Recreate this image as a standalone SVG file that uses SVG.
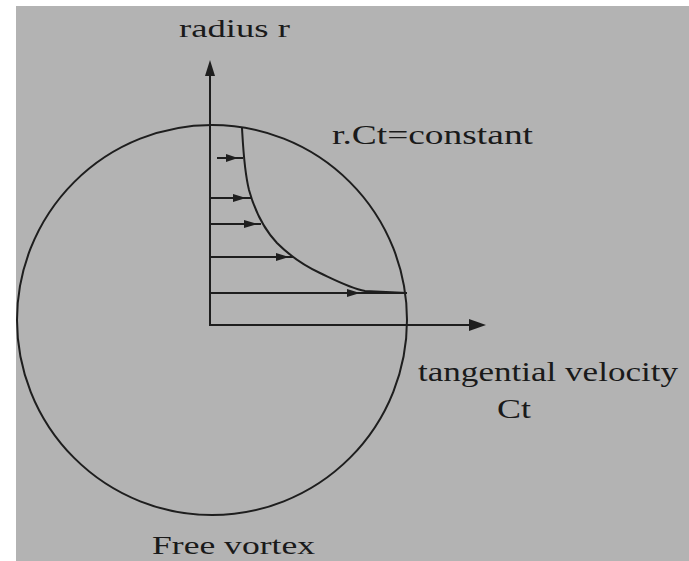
<svg xmlns="http://www.w3.org/2000/svg" width="689" height="561" viewBox="0 0 689 561">
<style>
.ln{stroke:#1e1e1e;stroke-width:2;fill:none}
.hd{fill:#1e1e1e;stroke:none}
.tx{font-family:"Liberation Serif","DejaVu Serif",serif;fill:#1a1a1a}
</style>
<rect x="0" y="0" width="689" height="561" fill="#ffffff"/>
<rect x="16" y="6" width="673" height="555" fill="#b3b3b3"/>
<g id="circle">
<circle class="ln" cx="212" cy="320" r="195"/>
</g>
<g id="axes">
<line class="ln" x1="210" y1="72" x2="210" y2="326"/>
<line class="ln" x1="209" y1="325" x2="474" y2="325"/>
<path class="hd" d="M210,60 L215,76 L205,76 Z"/>
<path class="hd" d="M486,325 L469,319 L469,331 Z"/>
</g>
<g id="curve">
<path class="ln" d="M242,128 C243,145 244,170 249,190 C254,208 263,228 277,243 C290,256 305,266 320,273 C335,280 350,288 365,291 L407,293"/>
</g>
<g id="velocity-arrows">
<line class="ln" x1="217" y1="158" x2="243" y2="158"/>
<line class="ln" x1="210" y1="198" x2="251" y2="198"/>
<line class="ln" x1="210" y1="224" x2="261" y2="224"/>
<line class="ln" x1="210" y1="257" x2="293" y2="257"/>
<line class="ln" x1="210" y1="293" x2="407" y2="293"/>
<path class="hd" d="M238,158 L226,154 L226,162 Z"/>
<path class="hd" d="M246,198 L233,194 L233,202 Z"/>
<path class="hd" d="M258,224 L244,220 L244,228 Z"/>
<path class="hd" d="M289,257 L276,253 L276,261 Z"/>
<path class="hd" d="M360,293 L347,289 L347,297 Z"/>
</g>
<g id="labels">
<text class="tx" x="179" y="37" font-size="25" textLength="111" lengthAdjust="spacingAndGlyphs">radius r</text>
<text class="tx" x="332" y="144" font-size="27" textLength="201" lengthAdjust="spacingAndGlyphs">r.Ct=constant</text>
<text class="tx" x="418" y="381" font-size="28" textLength="260" lengthAdjust="spacingAndGlyphs">tangential velocity</text>
<text class="tx" x="497" y="418" font-size="27" textLength="34" lengthAdjust="spacingAndGlyphs">Ct</text>
<text class="tx" x="152" y="554" font-size="26" textLength="163" lengthAdjust="spacingAndGlyphs">Free vortex</text>
</g>
</svg>
